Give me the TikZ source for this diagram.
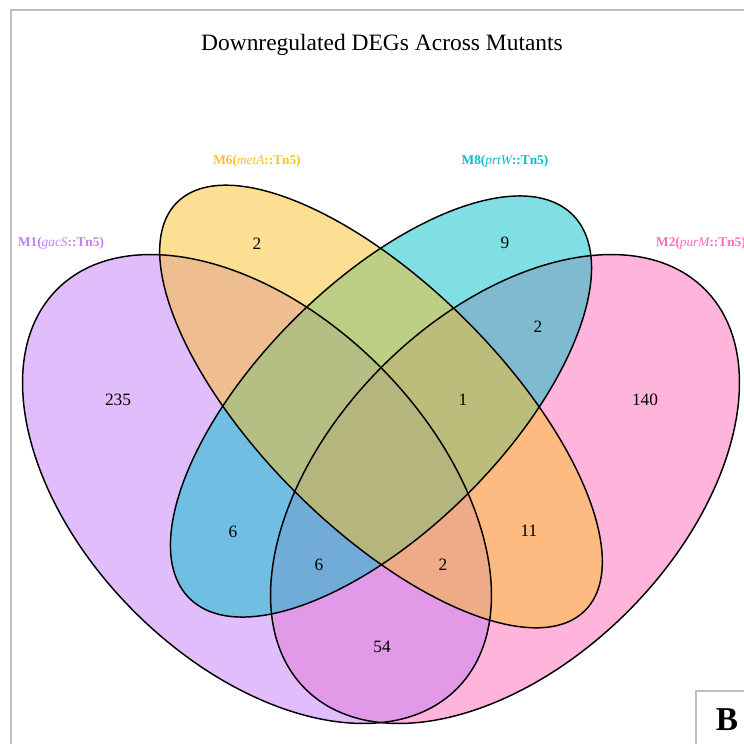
\documentclass[tikz,border=0pt]{standalone}
\usepackage{fontspec}
\setmainfont{Liberation Serif}
\definecolor{setA}{RGB}{195,125,247}
\definecolor{setB}{RGB}{251,191,39}
\definecolor{setC}{RGB}{0,191,199}
\definecolor{setD}{RGB}{255,107,183}
\definecolor{framegray}{RGB}{190,190,190}
\begin{document}
\begin{tikzpicture}[x=0.75pt,y=-0.75pt,
  setfill/.style={fill opacity=0.5, draw=none},
  setline/.style={draw=black, line width=1.1pt, fill=none},
  count/.style={font=\fontsize{13}{15}\selectfont, text=black, inner sep=0pt},
  setlabel/.style={font=\fontsize{10}{12}\selectfont\bfseries, inner sep=0pt},
  framestroke/.style={draw=framegray, line width=1.5pt},
  ellA/.style={shift={(257,489)}, rotate=-45},
  ellB/.style={shift={(381,406.5)}, rotate=-45},
  ellC/.style={shift={(381,406.5)}, rotate=45},
  ellD/.style={shift={(505,489)}, rotate=45}]
\useasboundingbox (0,0) rectangle (744,744);

% outer panel frame
\draw[framestroke] (11,760) -- (11,10) -- (760,10);

% title
\node[font=\fontsize{17.6}{20}\selectfont, inner sep=0pt] (title) at (382,45) {Downregulated DEGs Across Mutants};

% translucent set fills
\path[setfill, fill=setD, ellD] (0,0) ellipse [x radius=211.9pt, y radius=130.1pt];
\path[setfill, fill=setA, ellA] (0,0) ellipse [x radius=211.9pt, y radius=130.1pt];
\path[setfill, fill=setC, ellC] (0,0) ellipse [x radius=203.3pt, y radius=92.3pt];
\path[setfill, fill=setB, ellB] (0,0) ellipse [x radius=216.4pt, y radius=90.8pt];

% set outlines
\path[setline, ellD] (0,0) ellipse [x radius=211.9pt, y radius=130.1pt];
\path[setline, ellA] (0,0) ellipse [x radius=211.9pt, y radius=130.1pt];
\path[setline, ellC] (0,0) ellipse [x radius=203.3pt, y radius=92.3pt];
\path[setline, ellB] (0,0) ellipse [x radius=216.4pt, y radius=90.8pt];

% set names
\node[setlabel, text=setA] (labA) at (61,243) {M1({\normalfont\itshape gacS}::Tn5)};
\node[setlabel, text=setB] (labB) at (257,161) {M6({\normalfont\itshape metA}::Tn5)};
\node[setlabel, text=setC] (labC) at (505,161) {M8({\normalfont\itshape prtW}::Tn5)};
\node[setlabel, text=setD] (labD) at (701,243) {M2({\normalfont\itshape purM}::Tn5)};

% region counts
\node[count] (nA)   at (118,400) {235};
\node[count] (nB)   at (257,244) {2};
\node[count] (nC)   at (505,243) {9};
\node[count] (nD)   at (645,400) {140};
\node[count] (nCD)  at (538,327) {2};
\node[count] (nBCD) at (463,400) {1};
\node[count] (nAC)  at (233,532) {6};
\node[count] (nABC) at (319,565) {6};
\node[count] (nABD) at (443,565) {2};
\node[count] (nAD)  at (382,647) {54};
\node[count] (nBD)  at (529,531) {11};

% panel letter
\draw[framestroke] (760,691) -- (696,691) -- (696,760);
\node[font=\fontsize{25}{28}\selectfont\bfseries, inner sep=0pt] (panel) at (727,720) {B};
\end{tikzpicture}
\end{document}
